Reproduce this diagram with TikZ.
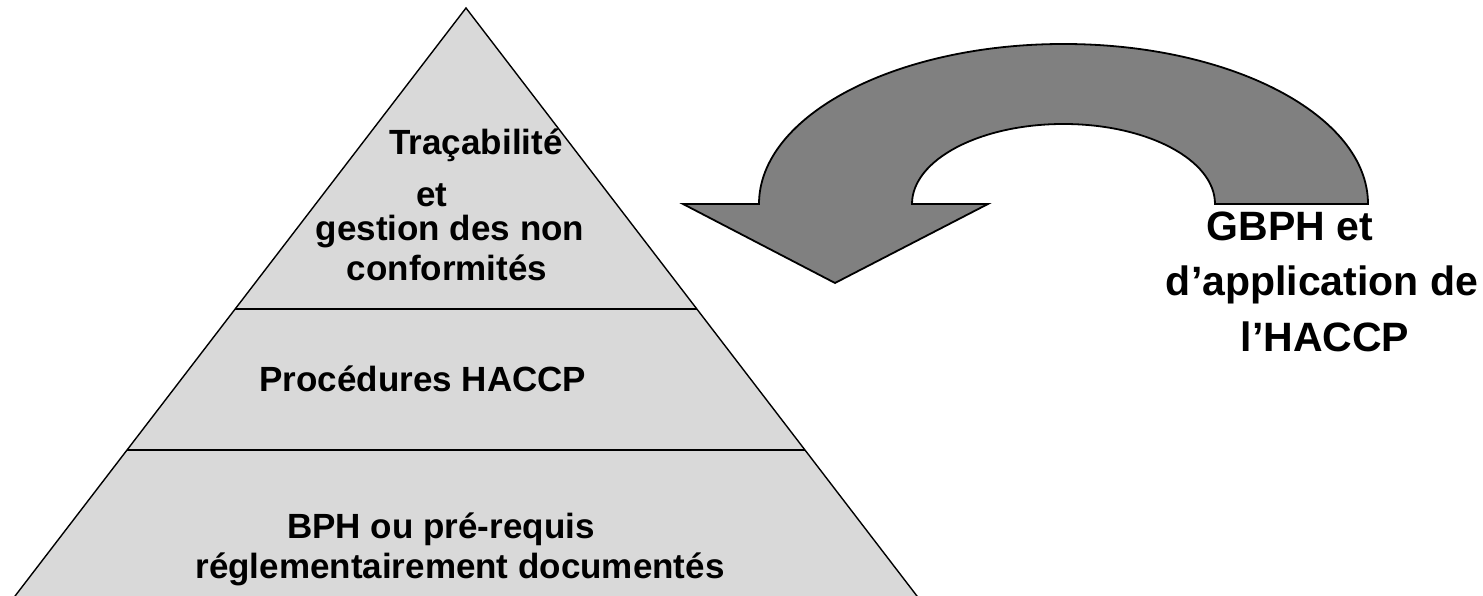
\documentclass[tikz,border=0pt]{standalone}
\usepackage{fontspec}
\setmainfont{Liberation Sans}
\definecolor{pyrfill}{HTML}{D9D9D9}
\definecolor{arrowfill}{HTML}{808080}
\begin{document}
\begin{tikzpicture}[x=1pt,y=1pt,
  pyrtext/.style={anchor=base,inner sep=0pt,font=\fontsize{35}{42}\selectfont\bfseries},
  sidetext/.style={anchor=base,inner sep=0pt,font=\fontsize{41}{49}\selectfont\bfseries},
  layerline/.style={line width=2.2pt},
  pyredge/.style={line width=1.4pt,fill=pyrfill,line join=miter},
  bigarrow/.style={line width=1.8pt,fill=arrowfill,line join=miter}]
\useasboundingbox (0,0) rectangle (1483,596);
% pyramid
\coordinate (apex) at (466,588);
\coordinate (bl) at (12,-4);
\coordinate (br) at (920,-4);
\draw[pyredge] (apex) -- (br) -- (bl) -- cycle;
\coordinate (l1a) at (235,287);
\coordinate (l1b) at (697,287);
\coordinate (l2a) at (127,146);
\coordinate (l2b) at (805,146);
\draw[layerline] (l1a) -- (l1b);
\draw[layerline] (l2a) -- (l2b);
% curved arrow
\draw[bigarrow] (683,392) -- (759,392)
  arc[start angle=180,end angle=0,x radius=304.5,y radius=160]
  -- (1215,392)
  arc[start angle=0,end angle=180,x radius=151.5,y radius=80]
  -- (988,392) -- (835,313) -- cycle;
% pyramid texts
\node[pyrtext] (t1) at (476,441) {Traçabilité};
\node[pyrtext] (t2) at (432,389) {et};
\node[pyrtext] (t3) at (450,355) {gestion des non};
\node[pyrtext] (t4) at (447,315) {conformités};
\node[pyrtext] (p1) at (423,204) {Procédures HACCP};
\node[pyrtext] (b1) at (441,57) {BPH ou pré-requis};
\node[pyrtext] (b2) at (460,17) {réglementairement documentés};
% side text
\node[sidetext] (s1) at (1290,355) {GBPH et};
\node[sidetext] (s2) at (1322,300) {d’application de};
\node[sidetext] (s3) at (1325,244) {l’HACCP};
\end{tikzpicture}
\end{document}
